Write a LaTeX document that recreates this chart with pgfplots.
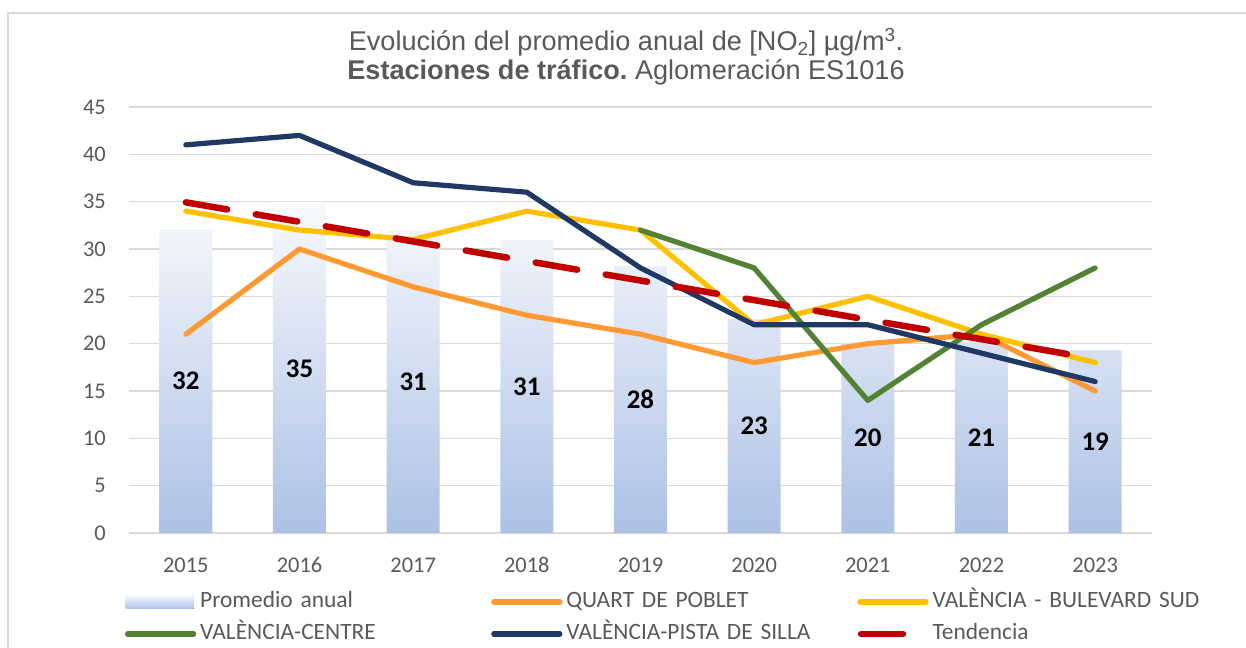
\documentclass[border=0pt]{standalone}
\usepackage{fontspec}
\setmainfont{Carlito}
\newfontfamily\arial{Liberation Sans}
\usepackage{pgfplots}
\usepackage{pgfplotstable}
\pgfplotsset{compat=1.18}
\definecolor{gridc}{HTML}{D9D9D9}
\definecolor{textc}{HTML}{595959}
\definecolor{barTop}{HTML}{F8FAFD}
\definecolor{barBot}{HTML}{ACC1E5}
\definecolor{cQuart}{HTML}{FF9933}
\definecolor{cBul}{HTML}{FFC000}
\definecolor{cCentre}{HTML}{548235}
\definecolor{cPista}{HTML}{203864}
\definecolor{cTrend}{HTML}{C00000}

\pgfplotstableread{
x avg lab quart bul pista trend
0 32.1 32 21 34 41 34.93
1 34.8 35 30 32 42 32.87
2 32.0 31 26 31 37 30.80
3 31.0 31 23 34 36 28.73
4 28.2 28 21 32 28 26.67
5 22.6 23 18 22 22 24.60
6 20.1 20 20 25 22 22.53
7 20.2 21 21 21 19 20.47
8 19.3 19 15 18 16 18.40
}\data

\pgfplotstableread{
x centre
4 32
5 28
6 14
7 22
8 28
}\centre

\begin{document}
\begin{tikzpicture}
\useasboundingbox (0bp,0bp) rectangle (1246bp,-648bp);
\draw[gridc, line width=1.5bp] (8bp,-13bp) rectangle (1262bp,-670bp);
\node[align=center, text=textc, font=\arial\fontsize{27.2}{29}\selectfont] at (626bp,-57bp)
  {Evolución del promedio anual de [NO\textsubscript{2}] µg/m\textsuperscript{3}.\\
   \textbf{Estaciones de tráfico.}~Aglomeración ES1016};
\begin{axis}[
  at={(129bp,-533bp)}, anchor=south west,
  scale only axis, width=1023bp, height=426bp,
  xmin=-0.5, xmax=8.5, ymin=0, ymax=45,
  enlargelimits=false,
  xtick={0,...,8},
  xticklabels={2015,2016,2017,2018,2019,2020,2021,2022,2023},
  ytick={0,5,...,45},
  major tick length=0pt,
  axis line style={draw=none},
  ymajorgrids,
  grid style={color=gridc, line width=1.3bp},
  /pgf/number format/assume math mode=true,
  ticklabel style={font=\fontsize{22.5}{26}\selectfont, text=textc},
  yticklabel style={anchor=east, inner sep=0pt, xshift=-23bp},
  xticklabel style={anchor=north, inner sep=0pt, yshift=-25bp, text height=14bp, text depth=0pt},
  legend columns=3,
  legend cell align=left,
  legend style={at={(-0.007,-0.132)}, anchor=north west, draw=none, fill=none,
    font=\fontsize{23.5}{27}\selectfont, text=textc,
    column sep=0pt, row sep=11bp,
    nodes={text width=287bp, inner xsep=4bp, inner ysep=0pt, text height=16bp, text depth=5bp}},
]
\addplot[ybar, bar width=53bp, bar shift=0pt, draw=none, top color=barTop, bottom color=barBot,
  legend image code/.code={\fill[top color=barTop, bottom color=barBot] (0bp,-7bp) rectangle (68bp,7bp);}]
  table[x=x, y=avg] {\data};
\addlegendentry{Promedio anual}
\addplot[line width=5.2bp, color=cQuart, line cap=round, line join=round,
  legend image code/.code={\draw[line width=5.2bp, color=cQuart, line cap=round] (2bp,0) -- (68bp,0);}]
  table[x=x, y=quart] {\data};
\addlegendentry{QUART DE POBLET}
\addplot[line width=5.2bp, color=cBul, line cap=round, line join=round,
  legend image code/.code={\draw[line width=5.2bp, color=cBul, line cap=round] (2bp,0) -- (68bp,0);}]
  table[x=x, y=bul] {\data};
\addlegendentry{VALÈNCIA - BULEVARD SUD}
\addplot[line width=5.2bp, color=cCentre, line cap=round, line join=round,
  legend image code/.code={\draw[line width=5.2bp, color=cCentre, line cap=round] (2bp,0) -- (68bp,0);}]
  table[x=x, y=centre] {\centre};
\addlegendentry{VALÈNCIA-CENTRE}
\addplot[line width=5.2bp, color=cPista, line cap=round, line join=round,
  legend image code/.code={\draw[line width=5.2bp, color=cPista, line cap=round] (2bp,0) -- (68bp,0);}]
  table[x=x, y=pista] {\data};
\addlegendentry{VALÈNCIA-PISTA DE SILLA}
\addplot[line width=6.5bp, color=cTrend, line cap=round, dash pattern=on 42bp off 29bp,
  legend image code/.code={\draw[line width=6.5bp, color=cTrend, line cap=round] (3bp,0) -- (50bp,0);}]
  table[x=x, y=trend] {\data};
\addlegendentry{Tendencia}
\addplot[draw=none, mark=none, nodes near coords, point meta=explicit symbolic,
  nodes near coords align={center},
  every node near coord/.append style={font=\bfseries\fontsize{27}{31}\selectfont, text=black, anchor=center},
  forget plot]
  table[x=x, y expr=\thisrow{avg}/2, meta=lab] {\data};
\end{axis}
\end{tikzpicture}
\end{document}
